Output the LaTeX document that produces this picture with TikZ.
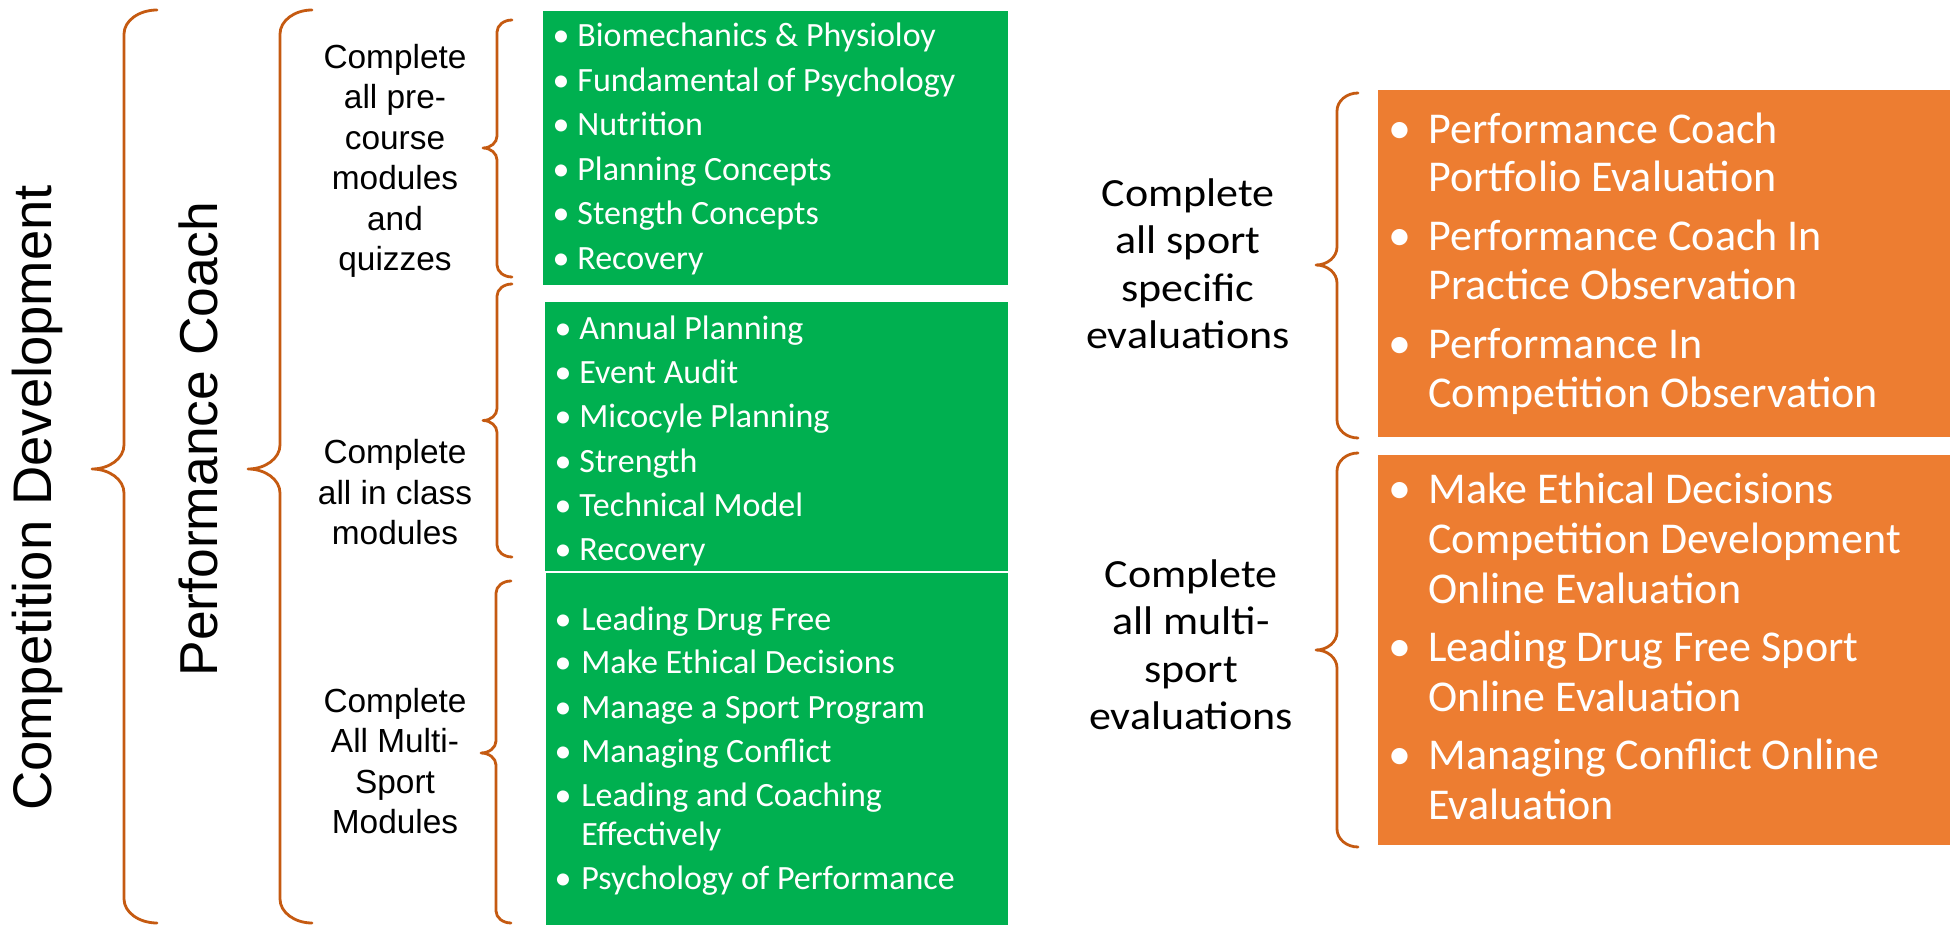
\documentclass[tikz,border=0pt]{standalone}
\usepackage{fontspec}
\setmainfont{Carlito}
\newfontfamily\arialf{Liberation Sans}
\newfontfamily\widecal[FakeStretch=1.1]{Carlito}
\usetikzlibrary{calc}
\definecolor{bracecol}{HTML}{C55A11}
\definecolor{boxgreen}{HTML}{00B050}
\definecolor{boxorange}{HTML}{ED7D31}
\newcommand{\mybrace}[7]{%
\draw[bracepath] (#3,#4) .. controls ({#3-0.55*(#3-#2)},#4) and (#2,{#4+0.45*#7}) .. (#2,{#4+#7})
 -- (#2,{#5-#7}) .. controls (#2,{#5-0.45*#7}) and ({#1+0.55*(#2-#1)},#5) .. (#1,#5)
 .. controls ({#1+0.55*(#2-#1)},#5) and (#2,{#5+0.45*#7}) .. (#2,{#5+#7})
 -- (#2,{#6-#7}) .. controls (#2,{#6-0.45*#7}) and ({#3-0.55*(#3-#2)},#6) .. (#3,#6);}
\begin{document}
\begin{tikzpicture}[x=0.5pt,y=-0.5pt,
  bracepath/.style={draw=bracecol, line width=1.4pt, line cap=round, line join=round},
  gbox/.style={fill=boxgreen, draw=none, inner sep=0pt, outer sep=0pt, anchor=north west},
  obox/.style={fill=boxorange, draw=none, inner sep=0pt, outer sep=0pt, anchor=north west},
  gtxt/.style={anchor=base west, inner sep=0pt, text=white, font=\fontsize{17}{20}\selectfont},
  gbul/.style={anchor=base, inner sep=0pt, text=white, font=\fontsize{17}{20}\selectfont},
  otxt/.style={anchor=base west, inner sep=0pt, text=white, font=\fontsize{22}{26}\selectfont},
  obul/.style={anchor=base, inner sep=0pt, text=white, font=\fontsize{23}{26}\selectfont},
  vlabel/.style={rotate=90, inner sep=0pt},
  mlabel/.style={align=center, inner sep=0pt, font=\arialf\fontsize{16.7}{20.25}\selectfont},
  rlabel/.style={align=center, inner sep=0pt, font=\widecal\fontsize{20}{23.75}\selectfont},
]
\useasboundingbox (0,0) rectangle (1956,925);
\fill[white] (0,0) rectangle (1956,925);

% boxes
\node[gbox, minimum width=232.5pt, minimum height=137pt] (gA) at (543,11) {};
\node[gbox, minimum width=231.5pt, minimum height=134.5pt] (gB) at (545,302) {};
\node[gbox, minimum width=231pt, minimum height=176pt] (gC) at (546,573) {};
\node[obox, minimum width=286pt, minimum height=173.5pt] (oA) at (1378,90) {};
\node[obox, minimum width=286pt, minimum height=195pt] (oB) at (1378,455) {};

% green box texts
\foreach \t [count=\i] in {Biomechanics \& Physioloy, Fundamental of Psychology, Nutrition, Planning Concepts, Stength Concepts, Recovery} {
  \node[gbul] (gAb\i) at (561,{46.7+44.5*(\i-1)}) {\textbullet};
  \node[gtxt] (gAt\i) at (577,{46.7+44.5*(\i-1)}) {\t};
}
\foreach \t [count=\i] in {Annual Planning, Event Audit, Micocyle Planning, Strength, Technical Model, Recovery} {
  \node[gbul] (gBb\i) at (563,{339.3+44.3*(\i-1)}) {\textbullet};
  \node[gtxt] (gBt\i) at (579,{339.3+44.3*(\i-1)}) {\t};
}
\foreach \t/\y [count=\i] in {Leading Drug Free/630, Make Ethical Decisions/673.8, Manage a Sport Program/718.1, Managing Conflict/762.4, Leading and Coaching/806.7, Psychology of Performance/889.3} {
  \node[gbul] (gCb\i) at (563,\y) {\textbullet};
  \node[gtxt] (gCt\i) at (581,\y) {\t};
}
\node[gtxt] (gCt5b) at (581,845) {Effectively};

% orange box texts
\node[obul] (oAb1) at (1400,143.3) {\textbullet};
\node[otxt] (oAt1) at (1428,143.3) {Performance Coach};
\node[otxt] (oAt1b) at (1428,191.7) {Portfolio Evaluation};
\node[obul] (oAb2) at (1400,250.7) {\textbullet};
\node[otxt] (oAt2) at (1428,250.7) {Performance Coach In};
\node[otxt] (oAt2b) at (1428,300) {Practice Observation};
\node[obul] (oAb3) at (1400,358.3) {\textbullet};
\node[otxt] (oAt3) at (1428,358.3) {Performance In};
\node[otxt] (oAt3b) at (1428,407.3) {Competition Observation};

\node[obul] (oBb1) at (1400,503.3) {\textbullet};
\node[otxt] (oBt1) at (1428,503.3) {Make Ethical Decisions};
\node[otxt] (oBt1b) at (1428,553.3) {Competition Development};
\node[otxt] (oBt1c) at (1428,603.3) {Online Evaluation};
\node[obul] (oBb2) at (1400,661.7) {\textbullet};
\node[otxt] (oBt2) at (1428,661.7) {Leading Drug Free Sport};
\node[otxt] (oBt2b) at (1428,711.7) {Online Evaluation};
\node[obul] (oBb3) at (1400,769.3) {\textbullet};
\node[otxt] (oBt3) at (1428,769.3) {Managing Conflict Online};
\node[otxt] (oBt3b) at (1428,819.3) {Evaluation};

% labels
\node[vlabel, font=\arialf\fontsize{27.2}{30}\selectfont] (cd) at (37,498) {Competition Development};
\node[vlabel, font=\arialf\fontsize{26.7}{30}\selectfont] (pc) at (198,439) {Performance Coach};
\node[mlabel] (m1) at (395,160.7) {Complete\\all pre-\\course\\modules\\and\\quizzes};
\node[mlabel] (m2) at (395,492.5) {Complete\\all in class\\modules};
\node[mlabel] (m3) at (395,761) {Complete\\All Multi-\\Sport\\Modules};
\node[rlabel] (r1) at (1188,264) {Complete\\all sport\\specific\\evaluations};
\node[rlabel] (r2) at (1191,645) {Complete\\all multi-\\sport\\evaluations};

% braces
\mybrace{92}{124}{157}{10}{469}{923}{24}
\mybrace{248}{280}{312}{10}{469}{923}{24}
\mybrace{483}{497}{512}{20}{148}{277}{12}
\mybrace{483}{497}{512}{284}{420.5}{557}{12}
\mybrace{481}{496}{511}{581}{753}{923}{12}
\mybrace{1316}{1337}{1358}{93}{265}{438}{18}
\mybrace{1316}{1337}{1358}{453}{650}{847}{18}
\end{tikzpicture}
\end{document}
